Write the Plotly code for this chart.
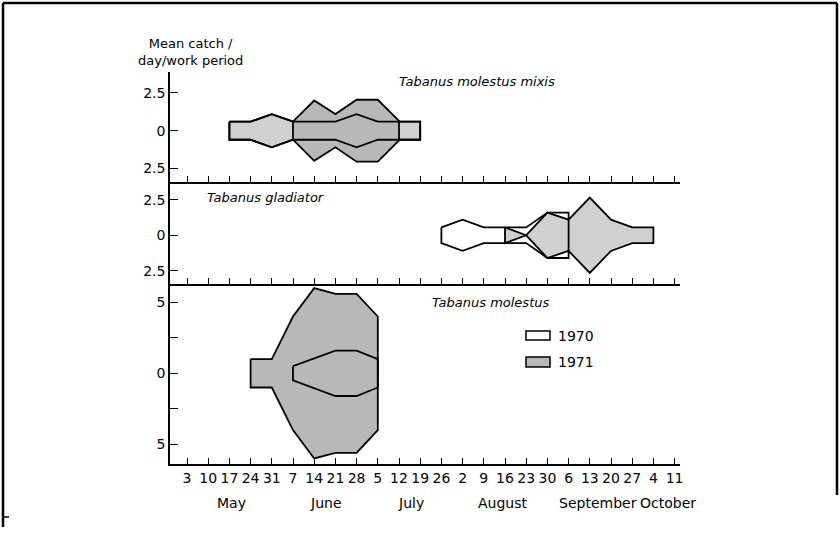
import plotly.graph_objects as go

# ---------------- data ----------------
weeks = ["3", "10", "17", "24", "31", "7", "14", "21", "28", "5", "12", "19",
         "26", "2", "9", "16", "23", "30", "6", "13", "20", "27", "4", "11"]
months = ["May", "June", "July", "August", "September", "October"]

# half-widths of the kites (mean catch / day / work period), first week index given
mixis_a_start = 2
mixis_a = [0.6, 0.6, 1.1, 0.6, 0.6, 0.6, 1.1, 0.6, 0.6, 0.6]
mixis_b_start = 5
mixis_b = [0.6, 2.0, 1.1, 2.05, 2.05, 0.65]

glad_1970_start = 12
glad_1970 = [0.55, 1.1, 0.55, 0.55, 0.55, 1.6, 1.6]
glad_1971_start = 15
glad_1971 = [0.55, 0.0, 1.6, 1.1, 2.65, 1.1, 0.55, 0.55]

mol_1971_start = 3
mol_1971 = [1.0, 1.0, 4.0, 6.0, 5.6, 5.6, 4.0]
mol_1970_start = 5
mol_1970 = [0.5, 1.05, 1.6, 1.6, 1.0]

# ---------------- layout helpers ----------------
L, R, T, B = 170, 680, 72, 464
W, H = R - L, B - T


def px(x):
    return (x - L) / W


def py(y):
    return (B - y) / H


def kite(start, vals):
    xs = list(range(start, start + len(vals)))
    x = xs + xs[::-1] + [xs[0]]
    y = list(vals) + [-v for v in vals[::-1]] + [vals[0]]
    return x, y


GREY = "#d0d0d0"
DARK = "#b8b8b8"
LW = 1.8
FONT = "DejaVu Sans"

fig = go.Figure()


def add(start, vals, xa, ya, fill):
    x, y = kite(start, vals)
    fig.add_trace(go.Scatter(
        x=x, y=y, xaxis=xa, yaxis=ya, mode="lines",
        fill="toself" if fill else "none", fillcolor=fill if fill else None,
        line=dict(color="black", width=LW), showlegend=False, hoverinfo="skip"))


# panel 1: Tabanus molestus mixis
add(mixis_a_start, mixis_a, "x3", "y", GREY)
add(mixis_b_start, mixis_b, "x3", "y", DARK)
add(mixis_a_start, mixis_a, "x3", "y", None)
# panel 2: Tabanus gladiator
add(glad_1971_start, glad_1971, "x2", "y2", GREY)
add(glad_1970_start, glad_1970, "x2", "y2", None)
# panel 3: Tabanus molestus
add(mol_1971_start, mol_1971, "x", "y3", DARK)
add(mol_1970_start, mol_1970, "x", "y3", None)

d3 = py(284)
d2 = py(182)

xcommon = dict(range=[(L - 187) / 21.2, (R - 187) / 21.2],
               tickmode="array", tickvals=list(range(len(weeks))),
               ticks="inside", ticklen=6, tickwidth=1.3, tickcolor="black",
               showline=True, linecolor="black", linewidth=1.6,
               showgrid=False, zeroline=False)
ycommon = dict(ticks="inside", ticklen=8, tickwidth=1.3, tickcolor="black",
               showline=True, linecolor="black", linewidth=1.6,
               showgrid=False, zeroline=False, tickmode="array",
               tickfont=dict(family=FONT, size=14, color="black"))

fig.update_layout(
    width=840, height=535,
    margin=dict(l=L, r=840 - R, t=T, b=535 - B),
    paper_bgcolor="white", plot_bgcolor="white",
    font=dict(family=FONT, size=14, color="black"),
    xaxis=dict(**xcommon, anchor="y3", ticktext=weeks,
               tickfont=dict(family=FONT, size=14, color="black")),
    xaxis2=dict(**xcommon, anchor="y2", matches="x", showticklabels=False),
    xaxis3=dict(**xcommon, anchor="y", matches="x", showticklabels=False),
    yaxis=dict(**ycommon, domain=[d2, 1], anchor="x3",
               range=[-3.4, 3.89], tickvals=[2.5, 0, -2.5],
               ticktext=["2.5", "0", "2.5"]),
    yaxis2=dict(**ycommon, domain=[d3, d2], anchor="x2",
                range=[-3.43, 3.75], tickvals=[2.5, 0, -2.5],
                ticktext=["2.5", "0", "2.5"]),
    yaxis3=dict(**ycommon, domain=[0, d3], anchor="x",
                range=[-6.39, 6.29], tickvals=[5, 2.5, 0, -2.5, -5],
                ticktext=["5", "", "0", "", "5"]),
)

ann = []
ann.append(dict(x=px(190), y=py(52), xref="paper", yref="paper",
                xanchor="center", yanchor="middle",
                text="Mean catch /<br>day/work period", showarrow=False,
                font=dict(family=FONT, size=13), align="center"))
titles = [("Tabanus molestus mixis", 477, 81),
          ("Tabanus gladiator", 266, 197),
          ("Tabanus molestus", 490, 302)]
for t, x, y in titles:
    ann.append(dict(x=px(x), y=py(y), xref="paper", yref="paper",
                    xanchor="center", yanchor="middle",
                    text="<i>" + t + "</i>", showarrow=False,
                    font=dict(family=FONT, size=13)))
month_x = [2.08, 6.56, 10.57, 14.9, 19.4, 22.7]
for m, x in zip(months, month_x):
    ann.append(dict(x=x, y=py(503), xref="x", yref="paper", text=m,
                    xanchor="center", yanchor="middle",
                    showarrow=False, font=dict(family=FONT, size=14)))
ann.append(dict(x=px(556), y=py(335.5), xref="paper", yref="paper", text="1970",
                xanchor="left", yanchor="middle", showarrow=False,
                font=dict(family=FONT, size=14)))
ann.append(dict(x=px(556), y=py(362), xref="paper", yref="paper", text="1971",
                xanchor="left", yanchor="middle", showarrow=False,
                font=dict(family=FONT, size=14)))
fig.update_layout(annotations=ann)

shapes = [
    dict(type="rect", xref="paper", yref="paper", x0=px(526), x1=px(550),
         y0=py(340), y1=py(331), line=dict(color="black", width=1.5),
         fillcolor="white"),
    dict(type="rect", xref="paper", yref="paper", x0=px(526), x1=px(550),
         y0=py(367), y1=py(357), line=dict(color="black", width=1.5),
         fillcolor=DARK),
    # page frame
    dict(type="line", xref="paper", yref="paper", x0=px(3), x1=px(837),
         y0=py(3), y1=py(3), line=dict(color="black", width=2.5), layer="above"),
    dict(type="line", xref="paper", yref="paper", x0=px(3), x1=px(3),
         y0=py(3), y1=py(527), line=dict(color="black", width=2.5), layer="above"),
    dict(type="line", xref="paper", yref="paper", x0=px(3), x1=px(9),
         y0=py(517), y1=py(517), line=dict(color="black", width=1.5), layer="above"),
    dict(type="line", xref="paper", yref="paper", x0=px(837), x1=px(837),
         y0=py(3), y1=py(495), line=dict(color="black", width=2.5), layer="above"),
]
fig.update_layout(shapes=shapes)

fig.write_html("out.html")
